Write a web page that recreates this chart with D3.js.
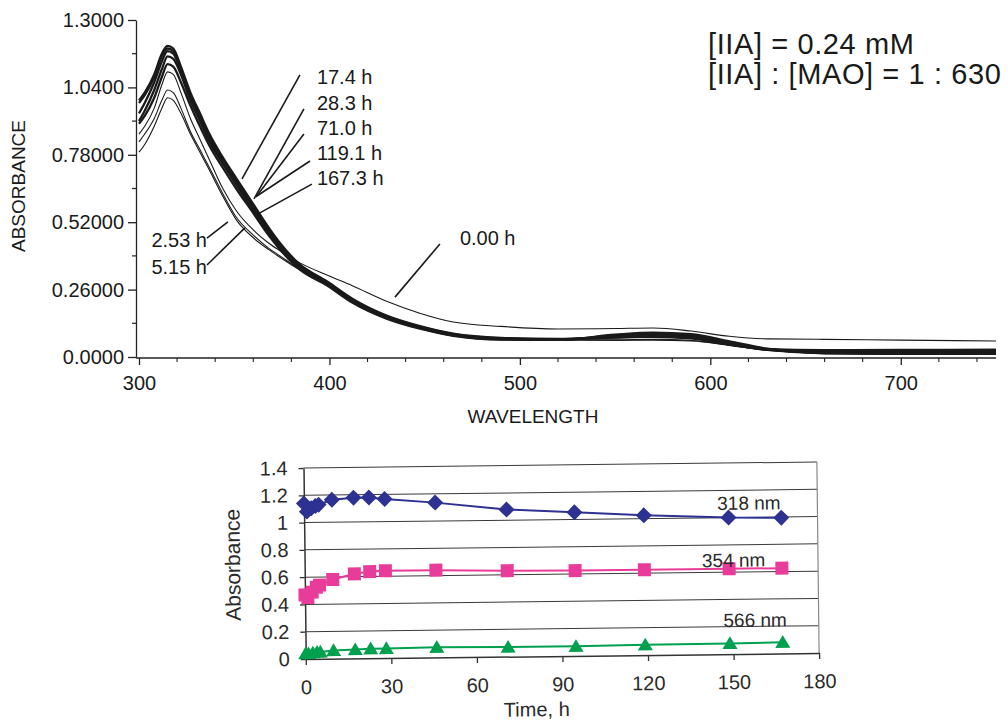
<!DOCTYPE html>
<html>
<head>
<meta charset="utf-8">
<script src="https://cdnjs.cloudflare.com/ajax/libs/d3/7.8.5/d3.min.js"></script>
<style>
  body { margin: 0; background: #fff; }
  svg { display: block; font-family: "Liberation Sans", Arial, sans-serif; }
</style>
</head>
<body>
<svg id="chart" width="1008" height="722"></svg>
<script>
// ---- top panel: UV-vis spectra ----
const wavelengths = [300, 303, 308, 312, 315, 318, 322, 327, 332, 337, 344, 351, 360, 368, 374, 384, 399, 412, 430, 447, 465, 490, 520, 550, 570, 590, 610, 630, 660, 700, 750];

const spec000 = [0.86, 0.89, 0.96, 1.05, 1.10, 1.09, 1.02, 0.92, 0.84, 0.76, 0.65, 0.565, 0.49, 0.44, 0.41, 0.365, 0.315, 0.275, 0.215, 0.17, 0.135, 0.118, 0.108, 0.11, 0.112, 0.1, 0.08, 0.07, 0.068, 0.065, 0.062];
const spec253 = [0.83, 0.86, 0.92, 0.99, 1.03, 1.02, 0.96, 0.87, 0.80, 0.73, 0.63, 0.54, 0.47, 0.42, 0.39, 0.34, 0.285, 0.218, 0.155, 0.116, 0.086, 0.07, 0.066, 0.064, 0.065, 0.062, 0.045, 0.025, 0.012, 0.01, 0.01];
const spec515 = [0.79, 0.82, 0.89, 0.96, 1.00, 0.99, 0.94, 0.86, 0.79, 0.72, 0.62, 0.53, 0.46, 0.415, 0.385, 0.338, 0.283, 0.216, 0.153, 0.114, 0.085, 0.07, 0.066, 0.066, 0.068, 0.064, 0.046, 0.026, 0.015, 0.013, 0.014];
const spec174 = [0.99, 1.02, 1.09, 1.17, 1.20, 1.19, 1.12, 1.02, 0.94, 0.86, 0.77, 0.69, 0.59, 0.50, 0.44, 0.36, 0.29, 0.225, 0.16, 0.12, 0.09, 0.074, 0.07, 0.075, 0.078, 0.072, 0.048, 0.03, 0.026, 0.027, 0.028];
const spec283 = [0.98, 1.01, 1.08, 1.16, 1.19, 1.18, 1.11, 1.01, 0.93, 0.85, 0.76, 0.68, 0.58, 0.49, 0.43, 0.355, 0.285, 0.22, 0.157, 0.118, 0.088, 0.072, 0.068, 0.076, 0.08, 0.074, 0.05, 0.028, 0.022, 0.022, 0.024];
const spec710 = [0.94, 0.98, 1.06, 1.14, 1.18, 1.17, 1.10, 1.00, 0.92, 0.84, 0.755, 0.675, 0.575, 0.485, 0.425, 0.35, 0.28, 0.215, 0.153, 0.115, 0.085, 0.07, 0.067, 0.08, 0.086, 0.08, 0.055, 0.03, 0.02, 0.019, 0.02];
const spec1191 = [0.91, 0.95, 1.03, 1.11, 1.16, 1.15, 1.09, 0.99, 0.91, 0.83, 0.745, 0.665, 0.565, 0.475, 0.42, 0.345, 0.278, 0.212, 0.15, 0.112, 0.083, 0.068, 0.066, 0.083, 0.09, 0.085, 0.058, 0.03, 0.017, 0.016, 0.017];
const spec1673 = [0.90, 0.93, 1.0, 1.08, 1.13, 1.12, 1.06, 0.97, 0.89, 0.815, 0.73, 0.65, 0.555, 0.47, 0.415, 0.34, 0.275, 0.21, 0.148, 0.11, 0.082, 0.067, 0.066, 0.086, 0.094, 0.088, 0.06, 0.032, 0.015, 0.013, 0.013];

const spectra = [
  { name: '0.00 h', values: spec000, bold: false },
  { name: '2.53 h', values: spec253, bold: false },
  { name: '5.15 h', values: spec515, bold: false },
  { name: '17.4 h', values: spec174, bold: true },
  { name: '28.3 h', values: spec283, bold: true },
  { name: '71.0 h', values: spec710, bold: true },
  { name: '119.1 h', values: spec1191, bold: true },
  { name: '167.3 h', values: spec1673, bold: true },
];

// y tick values and their printed labels
const topYTicks = [0, 0.26, 0.52, 0.78, 1.04, 1.3];
const topYLabels = ['0.0000', '0.26000', '0.52000', '0.78000', '1.0400', '1.3000'];
const topXTicks = [300, 400, 500, 600, 700];

// curve labels: text anchor (nm, A) and leader line (nm, A) -> (nm, A)
const curveLabels = [
  { text: '17.4 h', at: [393.4, 1.080], from: [384.5, 1.088], to: [354.1, 0.687], anchor: 'start' },
  { text: '28.3 h', at: [393.4, 0.980], from: [386.6, 0.957], to: [360.4, 0.610], anchor: 'start' },
  { text: '71.0 h', at: [393.4, 0.883], from: [386.6, 0.860], to: [361.4, 0.617], anchor: 'start' },
  { text: '119.1 h', at: [393.4, 0.787], from: [389.8, 0.756], to: [361.9, 0.621], anchor: 'start' },
  { text: '167.3 h', at: [393.4, 0.691], from: [390.8, 0.667], to: [363.5, 0.556], anchor: 'start' },
  { text: '2.53 h', at: [335.7, 0.451], from: [335.7, 0.459], to: [346.7, 0.521], anchor: 'end' },
  { text: '5.15 h', at: [335.7, 0.347], from: [335.7, 0.355], to: [355.6, 0.498], anchor: 'end' },
  { text: '0.00 h', at: [468.5, 0.459], from: [458.0, 0.436], to: [434.4, 0.231], anchor: 'start' },
];

// ---- bottom panel: absorbance vs time ----
const timesH = [0, 1.0, 2.53, 4.0, 5.15, 9.8, 17.4, 22.8, 28.3, 46.0, 71.0, 94.8, 119.1, 148.8, 167.3];
const abs318 = [1.14, 1.08, 1.105, 1.12, 1.13, 1.165, 1.178, 1.178, 1.166, 1.135, 1.078, 1.052, 1.024, 1.0, 0.995];
const abs354 = [0.47, 0.45, 0.49, 0.525, 0.54, 0.58, 0.62, 0.635, 0.64, 0.64, 0.63, 0.625, 0.625, 0.625, 0.625];
const abs566 = [0.04, 0.04, 0.045, 0.05, 0.05, 0.06, 0.065, 0.07, 0.07, 0.075, 0.07, 0.07, 0.075, 0.078, 0.082];
const botYTicks = [0, 0.2, 0.4, 0.6, 0.8, 1, 1.2, 1.4];
const botXTicks = [0, 30, 60, 90, 120, 150, 180];

const svg = d3.select('#chart');

/* ================= top chart ================= */
const xTop = d3.scaleLinear().domain([300, 750]).range([139, 996]);
const yTop = d3.scaleLinear().domain([0, 1.3]).range([357, 20]);
const topG = svg.append('g').attr('class', 'top');

// curves
const line = d3.line()
  .x((d, i) => xTop(wavelengths[i]))
  .y(d => yTop(d))
  .curve(d3.curveMonotoneX);

topG.append('g')
  .selectAll('path')
  .data(spectra)
  .join('path')
  .attr('d', d => line(d.values))
  .attr('fill', 'none')
  .attr('stroke', '#1a1a1a')
  .attr('stroke-width', d => (d.bold ? 2.3 : 1.1));

// y axis
const yAxisTop = d3.axisLeft(yTop)
  .tickValues(topYTicks)
  .tickFormat((d, i) => topYLabels[i])
  .tickSize(8)
  .tickSizeOuter(0)
  .tickPadding(4);
const gy = topG.append('g').attr('transform', 'translate(136,0)').call(yAxisTop);
gy.select('.domain').attr('stroke', '#222').attr('stroke-width', 1.3);
gy.selectAll('.tick line').attr('stroke', '#222').attr('stroke-width', 1.3);
gy.selectAll('text').attr('font-size', 20).attr('fill', '#1a1a1a')
  .attr('font-family', '"Liberation Sans", Arial, sans-serif');

// minor y ticks
topG.append('g').attr('transform', 'translate(136,0)')
  .selectAll('line')
  .data(d3.range(0.13, 1.3, 0.26))
  .join('line')
  .attr('x1', -4).attr('x2', 0)
  .attr('y1', d => yTop(d)).attr('y2', d => yTop(d))
  .attr('stroke', '#222').attr('stroke-width', 1.2);

// x axis
const xAxisTop = d3.axisBottom(xTop)
  .tickValues(topXTicks)
  .tickSize(7)
  .tickSizeOuter(0)
  .tickPadding(11);
const gx = topG.append('g').attr('transform', 'translate(0,358)').call(xAxisTop);
gx.select('.domain').remove();
gx.selectAll('.tick line').attr('stroke', '#222').attr('stroke-width', 1.3);
gx.selectAll('text').attr('font-size', 20).attr('fill', '#1a1a1a')
  .attr('font-family', '"Liberation Sans", Arial, sans-serif');
topG.append('line')
  .attr('x1', 136).attr('x2', xTop(750))
  .attr('y1', 358).attr('y2', 358)
  .attr('stroke', '#222').attr('stroke-width', 1.3);

// minor x ticks every 20 nm
topG.append('g')
  .selectAll('line')
  .data(d3.range(320, 750, 20).filter(v => v % 100 !== 0))
  .join('line')
  .attr('x1', d => xTop(d)).attr('x2', d => xTop(d))
  .attr('y1', 358).attr('y2', 362)
  .attr('stroke', '#222').attr('stroke-width', 1.1);

// axis titles
topG.append('text')
  .attr('transform', 'translate(25,186) rotate(-90)')
  .attr('text-anchor', 'middle')
  .attr('font-size', 19)
  .attr('fill', '#1a1a1a')
  .text('ABSORBANCE');
topG.append('text')
  .attr('x', 533).attr('y', 423)
  .attr('text-anchor', 'middle')
  .attr('font-size', 19)
  .attr('fill', '#1a1a1a')
  .text('WAVELENGTH');

// curve labels with leader lines
const lbl = topG.append('g').selectAll('g').data(curveLabels).join('g');
lbl.append('line')
  .attr('x1', d => xTop(d.from[0])).attr('y1', d => yTop(d.from[1]))
  .attr('x2', d => xTop(d.to[0])).attr('y2', d => yTop(d.to[1]))
  .attr('stroke', '#1a1a1a').attr('stroke-width', 1.6);
lbl.append('text')
  .attr('x', d => xTop(d.at[0])).attr('y', d => yTop(d.at[1]))
  .attr('dy', '0.36em')
  .attr('text-anchor', d => d.anchor)
  .attr('font-size', 20)
  .attr('fill', '#1a1a1a')
  .text(d => d.text);

// conditions
const cond = topG.append('text').attr('font-size', 29).attr('letter-spacing', 0.6).attr('fill', '#1a1a1a');
cond.append('tspan').attr('x', 708).attr('y', 54).text('[IIA] = 0.24 mM');
cond.append('tspan').attr('x', 708).attr('y', 84).text('[IIA] : [MAO] = 1 : 630');

/* ================= bottom chart ================= */
const xBot = d3.scaleLinear().domain([0, 180]).range([304.6, 818]);
const yBot = d3.scaleLinear().domain([0, 1.4]).range([656, 465]);
const bot = svg.append('g').attr('transform', 'rotate(-0.67, 561, 560)');

// gridlines
bot.append('g')
  .selectAll('line')
  .data(botYTicks.filter(v => v > 0))
  .join('line')
  .attr('x1', xBot(0)).attr('x2', xBot(180))
  .attr('y1', d => yBot(d)).attr('y2', d => yBot(d))
  .attr('stroke', '#3a3a3a').attr('stroke-width', 1);
bot.append('line')
  .attr('x1', xBot(180)).attr('x2', xBot(180))
  .attr('y1', yBot(1.4)).attr('y2', yBot(0))
  .attr('stroke', '#8a8a8a').attr('stroke-width', 1.2);

// axes
const yAxisBot = d3.axisLeft(yBot).tickValues(botYTicks).tickFormat(d3.format('')).tickSize(5).tickSizeOuter(0).tickPadding(11);
const gby = bot.append('g').attr('transform', `translate(${xBot(0)},0)`).call(yAxisBot);
const xAxisBot = d3.axisBottom(xBot).tickValues(botXTicks).tickSize(6).tickSizeOuter(0).tickPadding(15);
const gbx = bot.append('g').attr('transform', `translate(0,${yBot(0)})`).call(xAxisBot);
[gby, gbx].forEach(g => {
  g.select('.domain').attr('stroke', '#333').attr('stroke-width', 1.5);
  g.selectAll('.tick line').attr('stroke', '#333').attr('stroke-width', 1.3);
  g.selectAll('text').attr('font-size', 20).attr('fill', '#2a2a2a')
    .attr('font-family', '"Liberation Sans", Arial, sans-serif');
});

bot.append('text')
  .attr('transform', 'translate(240,561) rotate(-90)')
  .attr('text-anchor', 'middle')
  .attr('font-size', 21)
  .attr('fill', '#2a2a2a')
  .text('Absorbance');
bot.append('text')
  .attr('x', 535).attr('y', 716)
  .attr('text-anchor', 'middle')
  .attr('font-size', 20)
  .attr('fill', '#2a2a2a')
  .text('Time, h');

// marker shapes
const diamond = { draw(ctx, size) { const r = Math.sqrt(size) / 2; ctx.moveTo(0, -r); ctx.lineTo(r, 0); ctx.lineTo(0, r); ctx.lineTo(-r, 0); ctx.closePath(); } };
const square = { draw(ctx, size) { const r = Math.sqrt(size) / 2; ctx.rect(-r, -r, 2 * r, 2 * r); } };
const triangle = { draw(ctx, size) { const r = Math.sqrt(size) / 2; ctx.moveTo(0, -r * 0.95); ctx.lineTo(r, r * 0.75); ctx.lineTo(-r, r * 0.75); ctx.closePath(); } };

const series = [
  { name: '318 nm', values: abs318, color: '#2d3192', shape: diamond, size: 16 * 16, label: [144.9, 1.107] },
  { name: '354 nm', values: abs354, color: '#e93c9a', shape: square, size: 13 * 13, label: [139.3, 0.689] },
  { name: '566 nm', values: abs566, color: '#00a04f', shape: triangle, size: 15 * 15, label: [146.6, 0.249] },
];

const tLine = d3.line().x((d, i) => xBot(timesH[i])).y(d => yBot(d));

const sg = bot.append('g').selectAll('g').data(series).join('g');
sg.append('path')
  .attr('d', d => tLine(d.values))
  .attr('fill', 'none')
  .attr('stroke', d => d.color)
  .attr('stroke-width', 2);
sg.each(function (s) {
  d3.select(this).selectAll('path.m')
    .data(s.values)
    .join('path')
    .attr('class', 'm')
    .attr('transform', (d, i) => `translate(${xBot(timesH[i])},${yBot(d)})`)
    .attr('d', d3.symbol(s.shape, s.size))
    .attr('fill', s.color);
});
sg.append('text')
  .attr('x', d => xBot(d.label[0])).attr('y', d => yBot(d.label[1]))
  .attr('dy', '0.36em')
  .attr('font-size', 19)
  .attr('fill', '#2a2a2a')
  .text(d => d.name);
</script>
</body>
</html>
